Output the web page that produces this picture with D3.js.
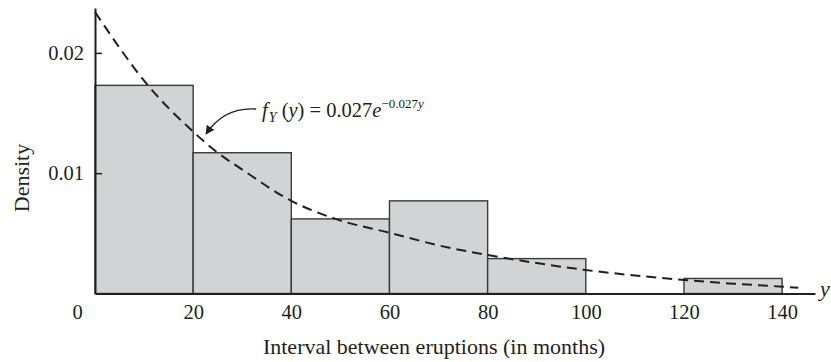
<!DOCTYPE html>
<html>
<head>
<meta charset="utf-8">
<script src="https://cdn.jsdelivr.net/npm/d3@7/dist/d3.min.js"></script>
<style>
  html, body { margin: 0; padding: 0; background: #fff; }
  svg text { font-family: "Liberation Serif", "Times New Roman", serif; fill: #231f20; }
</style>
</head>
<body>
<svg id="chart" width="831" height="362"></svg>
<script>
// ---- data ----
const binStarts = [0, 20, 40, 60, 80, 100, 120];
const binWidth = 20;
const densities = [0.0173, 0.0117, 0.0062, 0.0077, 0.0029, 0, 0.00125];

// dashed density curve
const curveX = [0, 11, 20, 25, 30, 40, 49, 60, 70, 80, 90, 100, 110, 120, 130, 140, 143.3];
const curveY = [0.0234, 0.0172, 0.01345, 0.0117, 0.0103, 0.0077, 0.0062, 0.00505, 0.0040, 0.0032, 0.00253, 0.00195, 0.0015, 0.00112, 0.00082, 0.00057, 0.00048];

const xTicks = [0, 20, 40, 60, 80, 100, 120, 140];
const yTicks = [0.01, 0.02];
const yTickLabels = ["0.01", "0.02"];

const svg = d3.select("#chart");

const x = d3.scaleLinear().domain([0, 146.7]).range([95, 815]);
const y = d3.scaleLinear().domain([0, 0.02373]).range([293.5, 8]);

// bars
svg.append("g").selectAll("rect")
  .data(binStarts.map((s, i) => ({ s, d: densities[i] })).filter(b => b.d > 0))
  .join("rect")
  .attr("x", b => x(b.s))
  .attr("y", b => y(b.d))
  .attr("width", b => x(b.s + binWidth) - x(b.s))
  .attr("height", b => y(0) - y(b.d))
  .attr("fill", "#d2d3d5")
  .attr("stroke", "#3a3a3a")
  .attr("stroke-width", 1.4);

// dashed curve
const line = d3.line()
  .x(d => x(d[0]))
  .y(d => y(d[1]))
  .curve(d3.curveMonotoneX);
svg.append("path")
  .datum(curveX.map((v, i) => [v, curveY[i]]))
  .attr("d", line)
  .attr("fill", "none")
  .attr("stroke", "#231f20")
  .attr("stroke-width", 2)
  .attr("stroke-dasharray", "10,6");

// y axis
const yAxis = svg.append("g")
  .attr("transform", `translate(${x(0)},0)`)
  .call(d3.axisLeft(y).tickValues(yTicks)
    .tickFormat((d, i) => yTickLabels[i])
    .tickSizeInner(-7).tickSizeOuter(0).tickPadding(11));
yAxis.select(".domain").attr("stroke", "#231f20").attr("stroke-width", 2);
yAxis.selectAll(".tick line").attr("stroke", "#231f20").attr("stroke-width", 1.5);
yAxis.selectAll(".tick text").attr("font-size", 20.5).attr("font-family", "Liberation Serif").attr("fill", "#231f20");

// x axis
const xAxis = svg.append("g")
  .attr("transform", `translate(0,${y(0)})`)
  .call(d3.axisBottom(x).tickValues(xTicks).tickSize(0).tickPadding(11));
xAxis.select(".domain").attr("stroke", "#231f20").attr("stroke-width", 2);
xAxis.selectAll(".tick text").attr("font-size", 20.5).attr("font-family", "Liberation Serif").attr("fill", "#231f20")
  .attr("dx", d => d === 0 ? -18 : 0);

// axis variable label "y"
svg.append("text")
  .attr("x", 825).attr("y", 296)
  .attr("text-anchor", "middle")
  .attr("font-size", 22).attr("font-style", "italic")
  .text("y");

// axis titles
svg.append("text")
  .attr("x", 434).attr("y", 354)
  .attr("text-anchor", "middle")
  .attr("font-size", 22)
  .text("Interval between eruptions (in months)");

svg.append("text")
  .attr("transform", "translate(29,178) rotate(-90)")
  .attr("text-anchor", "middle")
  .attr("font-size", 22)
  .text("Density");

// annotation
const defs = svg.append("defs");
defs.append("marker")
  .attr("id", "ah").attr("viewBox", "0 0 10 10")
  .attr("refX", 9).attr("refY", 5)
  .attr("markerWidth", 9).attr("markerHeight", 9)
  .attr("markerUnits", "userSpaceOnUse")
  .attr("orient", "auto")
  .append("path").attr("d", "M0,0 L10,5 L0,10 Z").attr("fill", "#231f20");

svg.append("path")
  .attr("d", "M256,109 Q224,107 206,134")
  .attr("fill", "none").attr("stroke", "#231f20").attr("stroke-width", 1.3)
  .attr("marker-end", "url(#ah)");

const ann = svg.append("text").attr("x", 262).attr("y", 117).attr("font-size", 20.5);
ann.append("tspan").attr("font-style", "italic").text("f");
ann.append("tspan").attr("font-style", "italic").attr("font-size", 14).attr("dy", 5).attr("dx", 1).text("Y");
ann.append("tspan").attr("dy", -5).text("\u00a0(");
ann.append("tspan").attr("font-style", "italic").text("y");
ann.append("tspan").text(") = 0.027");
ann.append("tspan").attr("font-style", "italic").text("e");
ann.append("tspan").attr("font-size", 13).attr("dy", -9).text("\u22120.027");
ann.append("tspan").attr("font-size", 13).attr("font-style", "italic").text("y");
</script>
</body>
</html>
